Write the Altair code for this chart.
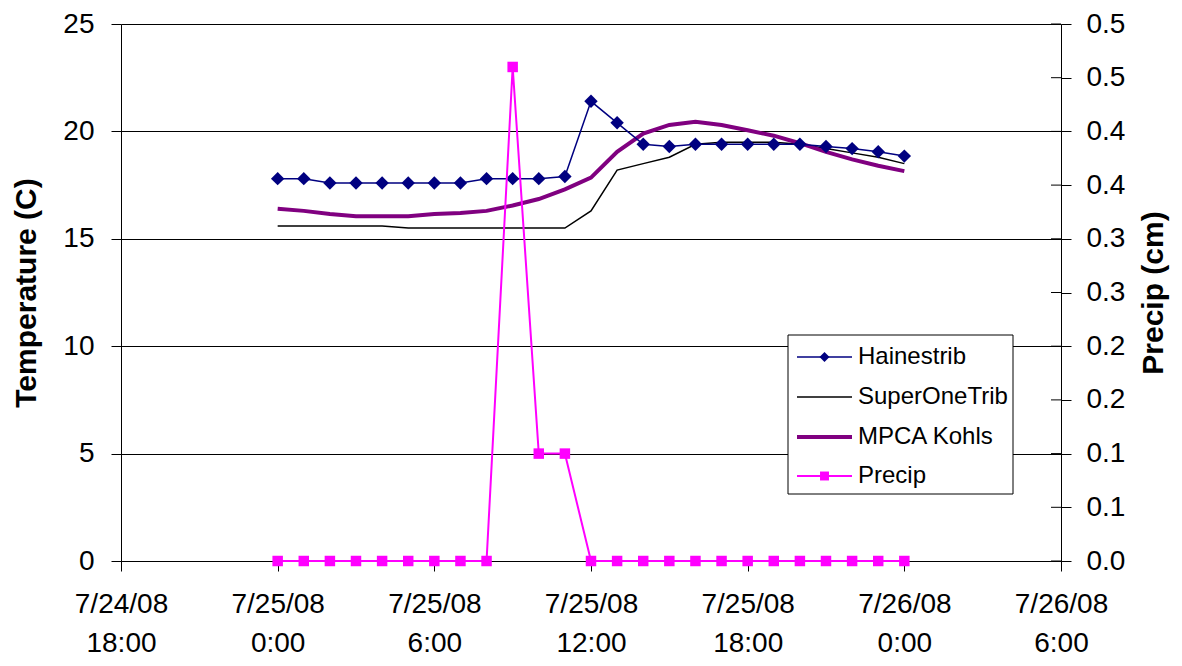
import altair as alt
import pandas as pd

# ---- data ----
hours = [0, 1, 2, 3, 4, 5, 6, 7, 8, 9, 10, 11, 12, 13, 14, 15, 16, 17, 18, 19, 20, 21, 22, 23, 24]
hainestrib = [17.8, 17.8, 17.6, 17.6, 17.6, 17.6, 17.6, 17.6, 17.8, 17.8, 17.8, 17.9, 21.4, 20.4,
              19.4, 19.3, 19.4, 19.4, 19.4, 19.4, 19.4, 19.3, 19.2, 19.05, 18.85]
superonetrib = [15.6, 15.6, 15.6, 15.6, 15.6, 15.5, 15.5, 15.5, 15.5, 15.5, 15.5, 15.5, 16.3, 18.2,
                18.5, 18.8, 19.4, 19.5, 19.5, 19.5, 19.4, 19.2, 19.0, 18.8, 18.5]
mpca_kohls = [16.4, 16.3, 16.15, 16.05, 16.05, 16.05, 16.15, 16.2, 16.3, 16.55, 16.85, 17.3, 17.85, 19.05,
              19.9, 20.3, 20.45, 20.3, 20.05, 19.8, 19.45, 19.05, 18.7, 18.4, 18.15]
precip = [0.0, 0.0, 0.0, 0.0, 0.0, 0.0, 0.0, 0.0, 0.0, 0.46, 0.10, 0.10, 0.0, 0.0,
          0.0, 0.0, 0.0, 0.0, 0.0, 0.0, 0.0, 0.0, 0.0, 0.0, 0.0]

series_names = ["Hainestrib", "SuperOneTrib", "MPCA Kohls", "Precip"]

x_tick_hours = [-6, 0, 6, 12, 18, 24, 30]
x_tick_labels = [["7/24/08", "18:00"], ["7/25/08", "0:00"], ["7/25/08", "6:00"], ["7/25/08", "12:00"],
                 ["7/25/08", "18:00"], ["7/26/08", "0:00"], ["7/26/08", "6:00"]]
temp_ticks = [0, 5, 10, 15, 20, 25]
precip_ticks = [0.0, 0.05, 0.1, 0.15, 0.2, 0.25, 0.3, 0.35, 0.4, 0.45, 0.5]
precip_tick_labels = ["0.0", "0.1", "0.1", "0.2", "0.2", "0.3", "0.3", "0.4", "0.4", "0.5", "0.5"]

df = pd.DataFrame({"hour": hours, "Hainestrib": hainestrib, "SuperOneTrib": superonetrib,
                   "MPCA Kohls": mpca_kohls, "Precip": precip})
ptick_df = pd.DataFrame({"v": precip_ticks})

FONT = "Liberation Sans"
W, H = 940, 537
TICK_FS = 28
TITLE_FS = 30

x_label_expr = "[" + ",".join("['%s','%s']" % (a, b) for a, b in x_tick_labels) + "][round((datum.value+6)/6)]"
p_label_expr = "[" + ",".join("'%s'" % s for s in precip_tick_labels) + "][round(datum.value*20)]"

x_enc = alt.X("hour:Q", scale=alt.Scale(domain=[-6, 30], nice=False, zero=False),
              axis=alt.Axis(values=x_tick_hours, labelExpr=x_label_expr, title=None, grid=False,
                            tickSize=10, tickColor="black", domainColor="black", labelFont=FONT,
                            labelFontSize=TICK_FS, labelLineHeight=39, labelPadding=19, labelColor="black",
                            labelFlush=False, labelOverlap=False))

temp_scale = alt.Scale(domain=[0, 25], nice=False)
temp_axis = alt.Axis(values=temp_ticks, title="Temperature (C)", grid=True, gridColor="black",
                     gridWidth=1, tickSize=10, tickColor="black", domainColor="black",
                     labelFont=FONT, labelFontSize=TICK_FS, labelPadding=17, labelColor="black",
                     titleFont=FONT, titleFontSize=TITLE_FS, titleFontWeight="bold", titleColor="black",
                     titlePadding=21)

base = alt.Chart(df)

hain = base.mark_line(color="#000080", strokeWidth=1.5).encode(
    x=x_enc, y=alt.Y("Hainestrib:Q", scale=temp_scale, axis=temp_axis))
hain_pts = base.mark_point(shape="diamond", filled=True, color="#000080", size=180, opacity=1).encode(
    x=x_enc, y=alt.Y("Hainestrib:Q", scale=temp_scale, axis=temp_axis))
sup = base.mark_line(color="black", strokeWidth=1.5).encode(
    x=x_enc, y=alt.Y("SuperOneTrib:Q", scale=temp_scale, axis=temp_axis))
mpca = base.mark_line(color="#800080", strokeWidth=4).encode(
    x=x_enc, y=alt.Y("MPCA Kohls:Q", scale=temp_scale, axis=temp_axis))

temp_layer = alt.layer(sup, mpca, hain, hain_pts)

p_scale = alt.Scale(domain=[0, 0.5], nice=False)
p_axis = alt.Axis(orient="right", values=precip_ticks, labelExpr=p_label_expr, title="Precip (cm)",
                  grid=False, tickSize=10, tickColor="black", domainColor="black",
                  labelFont=FONT, labelFontSize=TICK_FS, labelPadding=15, labelColor="black",
                  titleFont=FONT, titleFontSize=TITLE_FS, titleFontWeight="bold", titleColor="black",
                  titleAngle=270, titleBaseline="top", titlePadding=14)

p_line = base.mark_line(color="#FF00FF", strokeWidth=2).encode(
    x=x_enc, y=alt.Y("Precip:Q", scale=p_scale, axis=p_axis))
p_pts = base.mark_square(color="#FF00FF", size=110, opacity=1).encode(
    x=x_enc, y=alt.Y("Precip:Q", scale=p_scale, axis=p_axis))
p_inner = alt.Chart(ptick_df).mark_rule(color="black", strokeWidth=1).encode(
    x=alt.value(W - 10), x2=alt.value(W), y=alt.Y("v:Q", scale=p_scale, axis=p_axis))

precip_layer = alt.layer(p_line, p_pts, p_inner)

main = alt.layer(temp_layer, precip_layer).resolve_scale(y="independent")

# ---- legend (box in the plot area, as in the reference) ----
LX0, LX1, LY0, LY1 = 667, 892, 311, 470
item_y = [333, 373, 413, 452]
legend_parts = [
    alt.Chart(alt.Data(values=[{"a": 1}])).mark_rect(fill="white", stroke="black", strokeWidth=1).encode(
        x=alt.value(LX0), x2=alt.value(LX1), y=alt.value(LY0), y2=alt.value(LY1))
]
styles = [("#000080", 1.5, "diamond", 100), ("black", 1.5, None, 0), ("#800080", 4, None, 0),
          ("#FF00FF", 2, "square", 80)]
for name, yy, (col, sw, shp, sz) in zip(series_names, item_y, styles):
    d = alt.Data(values=[{"label": name}])
    legend_parts.append(alt.Chart(d).mark_rule(color=col, strokeWidth=sw).encode(
        x=alt.value(676), x2=alt.value(731), y=alt.value(yy)))
    if shp:
        legend_parts.append(alt.Chart(d).mark_point(shape=shp, filled=True, color=col, size=sz,
                                                    opacity=1).encode(
            x=alt.value(703.5), y=alt.value(yy)))
    legend_parts.append(alt.Chart(d).mark_text(align="left", baseline="middle", font=FONT,
                                               fontSize=24, color="black").encode(
        x=alt.value(737), y=alt.value(yy), text="label:N"))

chart = alt.layer(main, *legend_parts).properties(
    width=W, height=H,
    autosize=alt.AutoSizeParams(type="none"),
    padding={"left": 113, "top": 16, "right": 113, "bottom": 97},
    background="white",
).configure_view(stroke=None)

chart.save("out.html", embed_options={"renderer": "svg", "actions": False})
